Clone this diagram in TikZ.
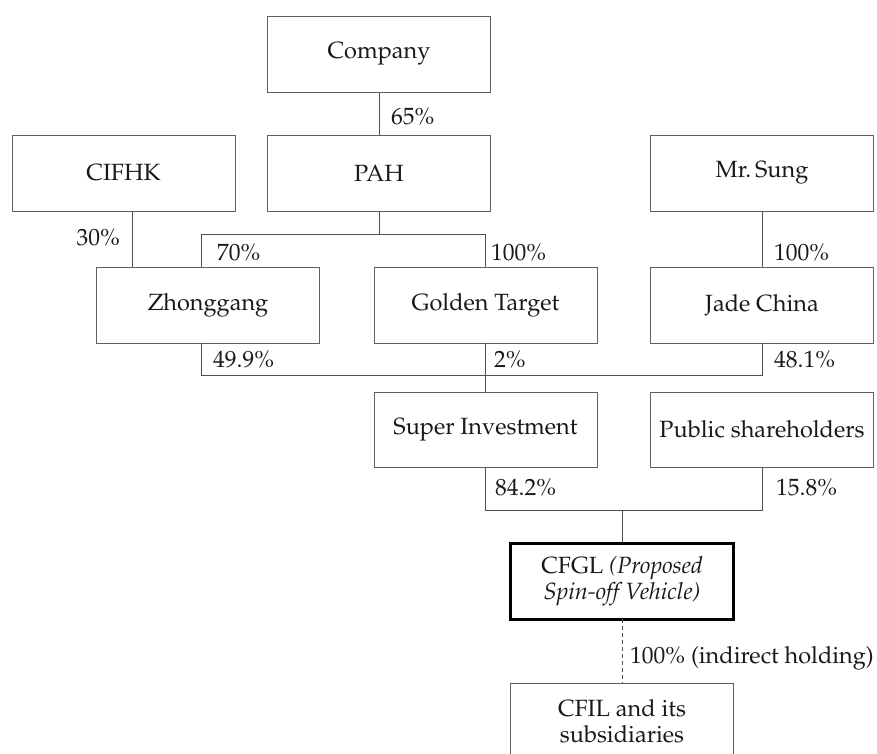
\documentclass[tikz,border=0pt]{standalone}
\usepackage[T1]{fontenc}
\usepackage{mathpazo}
\usetikzlibrary{calc}
\definecolor{boxline}{HTML}{606060}
\definecolor{conline}{HTML}{505050}
\tikzset{
  entity/.style={draw=boxline, line width=1pt, minimum width=223pt, minimum height=76pt,
    inner sep=0pt, outer sep=0pt, align=center, font=\fontsize{23.5}{28}\selectfont, text=black!90},
  keybox/.style={entity, draw=black, line width=3pt},
  conn/.style={draw=conline, line width=1pt},
  pct/.style={inner sep=0pt, font=\fontsize{23.5}{28}\selectfont, text=black!90},
}
\begin{document}
\begin{tikzpicture}[x=1pt, y=-1pt]
\useasboundingbox[fill=white] (0,0) rectangle (877,753);
% column / level helpers
\coordinate (colA) at (132,0);
\coordinate (colB) at (201,0);
\coordinate (lv1) at (0,234);
\coordinate (lv2) at (0,375);
\coordinate (lv3) at (0,510);
% boxes
\node[entity] (company) at (379,54) {Company};
\node[entity] (cifhk) at (123.5,173) {CIFHK};
\node[entity] (pah) at (379,173) {PAH};
\node[entity] (sung) at (762,173) {Mr.\,Sung};
\node[entity] (zhong) at (208,305) {Zhonggang};
\node[entity] (golden) at (485.5,305) {Golden Target};
\node[entity] (jade) at (762,305) {Jade China};
\node[entity, minimum height=75pt] (superinv) at (485.5,429.5) {Super Investment};
\node[entity, minimum height=75pt] (public) at (762,429.5) {Public shareholders};
\node[keybox] (cfgl) at (622,581) {CFGL \textit{(Proposed}\\[-2pt]\textit{Spin-off Vehicle)}};
\node[entity, minimum height=77pt] (cfil) at (622,721.5) {CFIL and its\\[-2pt]subsidiaries};
% connectors
\draw[conn] (company.south) -- (pah.north);
\draw[conn] (cifhk.south -| colA) -- (zhong.north -| colA);
\draw[conn] (pah.south) -- (pah.south |- lv1);
\draw[conn] (zhong.north -| colB) -- (colB |- lv1) -- (golden.north |- lv1) -- (golden.north);
\draw[conn] (sung.south) -- (jade.north);
\draw[conn] (zhong.south -| colB) -- (colB |- lv2) -- (jade.south |- lv2) -- (jade.south);
\draw[conn] (golden.south) -- (superinv.north);
\draw[conn] (superinv.south) -- (superinv.south |- lv3) -- (public.south |- lv3) -- (public.south);
\draw[conn] (cfgl.north |- lv3) -- (cfgl.north);
\draw[conn, dashed, dash pattern=on 4pt off 3pt] (cfgl.south) -- (cfil.north);
% percentages
\node[pct, anchor=west] (p65) at (391,117) {65\%};
\node[pct, anchor=east] (p30) at (120,238) {30\%};
\node[pct, anchor=west] (p70) at (217,253) {70\%};
\node[pct, anchor=west] (p100a) at (491,253) {100\%};
\node[pct, anchor=west] (p100b) at (774,253) {100\%};
\node[pct, anchor=west] (p499) at (213,360) {49.9\%};
\node[pct, anchor=west] (p2) at (494,360) {2\%};
\node[pct, anchor=west] (p481) at (774,360) {48.1\%};
\node[pct, anchor=west] (p842) at (495,488) {84.2\%};
\node[pct, anchor=west] (p158) at (776,488) {15.8\%};
\node[pct, anchor=west] (pind) at (630,658) {100\% (indirect holding)};
\end{tikzpicture}
\end{document}
